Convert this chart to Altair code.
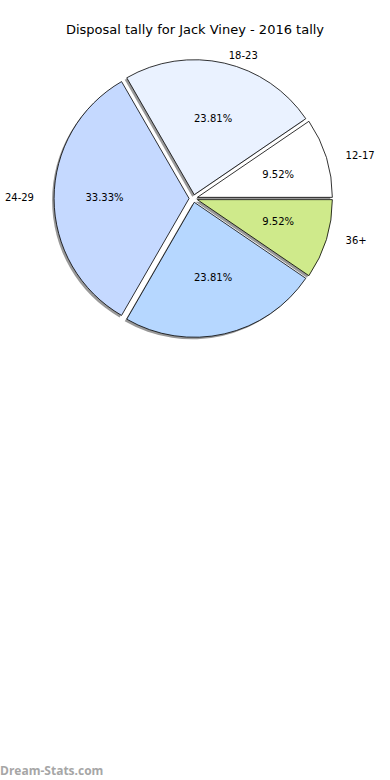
import altair as alt
import pandas as pd

# data
groups = ["12-17", "18-23", "24-29", "30-35", "36+"]
shown = ["12-17", "18-23", "24-29", "", "36+"]
counts = [2, 5, 7, 5, 2]
colors = ["#FFFFFF", "#EAF2FF", "#C5D9FF", "#B6D7FF", "#CFEA8B"]
title_text = "Disposal tally for Jack Viney - 2016 tally"
watermark = "Dream-Stats.com"

df = pd.DataFrame({
    "group": groups,
    "shown": shown,
    "count": counts,
    "order": list(range(len(groups))),
})

W, H = 390, 780
PAD_TOP = 40
VH = H - PAD_TOP
R = 135
EXPLODE = 0.03

xs = alt.Scale(domain=[-1.371, 1.395], nice=False, zero=False)
ys = alt.Scale(domain=[-4.508, 1.2287], nice=False, zero=False)

base = alt.Chart(df).transform_window(
    cum="sum(count)", sort=[alt.SortField("order")], frame=[None, 0]
).transform_joinaggregate(
    total="sum(count)"
).transform_calculate(
    phi1="2*PI*(datum.cum - datum.count)/datum.total",
    phi2="2*PI*datum.cum/datum.total",
).transform_calculate(
    mid="(datum.phi1 + datum.phi2)/2",
    t1="PI/2 - datum.phi2 + 2*PI",
    t2="PI/2 - datum.phi1 + 2*PI",
).transform_calculate(
    cx=f"{EXPLODE}*cos(datum.mid)",
    cy=f"{EXPLODE}*sin(datum.mid)",
).transform_calculate(
    lx="datum.cx + 1.1*cos(datum.mid)",
    ly="datum.cy + 1.1*sin(datum.mid)",
    px="datum.cx + 0.6*cos(datum.mid)",
    py="datum.cy + 0.6*sin(datum.mid)",
    pct="format(datum.count/datum.total*100, '.2f') + '%'",
)

color = alt.Color("group:N", scale=alt.Scale(domain=groups, range=colors), legend=None)

shadow = base.mark_arc(radius=R, xOffset=-2, yOffset=2, color="#999999").encode(
    x=alt.X("cx:Q", scale=xs, axis=None),
    y=alt.Y("cy:Q", scale=ys, axis=None),
    theta=alt.Theta("t1:Q", scale=None, stack=None),
    theta2="t2:Q",
)

wedges = base.mark_arc(radius=R, stroke="#000000", strokeWidth=0.8).encode(
    x=alt.X("cx:Q", scale=xs, axis=None),
    y=alt.Y("cy:Q", scale=ys, axis=None),
    theta=alt.Theta("t1:Q", scale=None, stack=None),
    theta2="t2:Q",
    color=color,
)

pcts = base.mark_text(font="DejaVu Sans", fontSize=10, color="#000000",
                      align="center", baseline="middle").encode(
    x=alt.X("px:Q", scale=xs, axis=None),
    y=alt.Y("py:Q", scale=ys, axis=None),
    text="pct:N",
)

labels_right = base.transform_filter("cos(datum.mid) >= 0").mark_text(
    font="DejaVu Sans", fontSize=10, color="#000000", align="left", baseline="middle"
).encode(
    x=alt.X("lx:Q", scale=xs, axis=None),
    y=alt.Y("ly:Q", scale=ys, axis=None),
    text="shown:N",
)

labels_left = base.transform_filter("cos(datum.mid) < 0").mark_text(
    font="DejaVu Sans", fontSize=10, color="#000000", align="right", baseline="middle"
).encode(
    x=alt.X("lx:Q", scale=xs, axis=None),
    y=alt.Y("ly:Q", scale=ys, axis=None),
    text="shown:N",
)

wm = alt.Chart(pd.DataFrame({"t": [watermark]})).mark_text(
    font="Open Sans", fontSize=12, fontWeight="bold", color="#a6a6a6",
    align="left", baseline="alphabetic"
).encode(
    x=alt.value(0),
    y=alt.value(VH - 5),
    text="t:N",
)

chart = alt.layer(shadow, wedges, pcts, labels_right, labels_left, wm).properties(
    width=W,
    height=VH,
    title=alt.TitleParams(title_text, font="DejaVu Sans", fontSize=13,
                          fontWeight="normal", anchor="middle", offset=3, color="#000000"),
    padding={"top": PAD_TOP, "left": 0, "right": 0, "bottom": 0},
    autosize=alt.AutoSizeParams(type="none"),
    background="#FFFFFF",
).configure_view(strokeWidth=0, stroke="transparent")

chart.save("out.html", embed_options={"renderer": "svg", "actions": False})
